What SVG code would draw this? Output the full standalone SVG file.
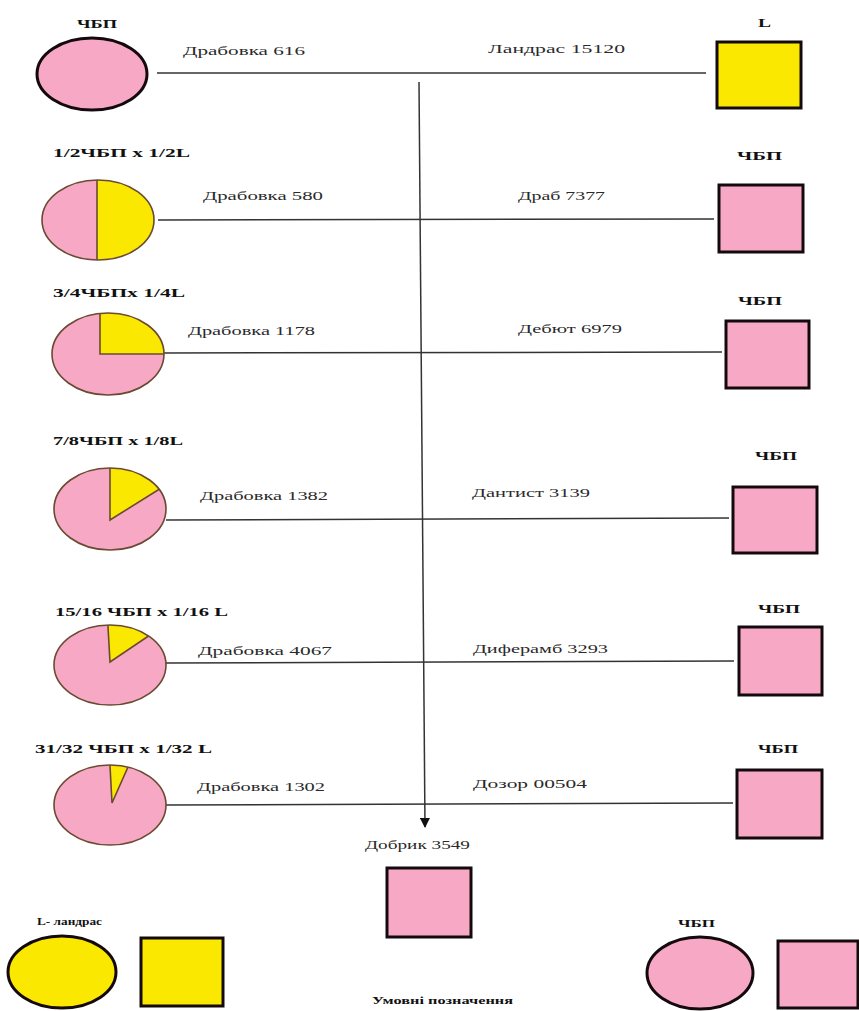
<svg xmlns="http://www.w3.org/2000/svg" width="859" height="1011" viewBox="0 0 859 1011">
<style>
.lbl{font-family:"Liberation Serif","Times New Roman",serif;font-size:13px;fill:#2a2a2a}
.bld{font-family:"Liberation Serif","Times New Roman",serif;font-size:13px;font-weight:bold;fill:#111}
.sm{font-size:10px}
.pink{fill:#F7A8C4}
.yel{fill:#FAE800}
.thick{stroke:#140a0e;stroke-width:3}
.pieo{fill:none;stroke:#6a4a32;stroke-width:1.6}
.wedge{fill:#FAE800;stroke:#6a4a32;stroke-width:1.6}
.conn{stroke:#333;stroke-width:1.5;fill:none}
</style>
<defs>
<marker id="arr" viewBox="0 0 10 10" refX="9" refY="5" markerWidth="10" markerHeight="10" markerUnits="userSpaceOnUse" orient="auto">
<path d="M0,0 L10,5 L0,10 Z" fill="#111"/>
</marker>
<clipPath id="c2"><ellipse cx="98" cy="220" rx="56" ry="40"/></clipPath>
<clipPath id="c3"><ellipse cx="108" cy="354" rx="56" ry="41"/></clipPath>
<clipPath id="c4"><ellipse cx="110" cy="509" rx="56" ry="41"/></clipPath>
<clipPath id="c5"><ellipse cx="110" cy="665" rx="56" ry="40"/></clipPath>
<clipPath id="c6"><ellipse cx="110" cy="805" rx="56" ry="40"/></clipPath>
</defs>
<rect width="859" height="1011" fill="#fff"/>

<g id="connectors">
<line class="conn" x1="157" y1="73" x2="706" y2="73"/>
<line class="conn" x1="158" y1="220" x2="714" y2="219"/>
<line class="conn" x1="164" y1="353" x2="722" y2="352"/>
<line class="conn" x1="166" y1="520" x2="729" y2="518"/>
<line class="conn" x1="166" y1="663" x2="734" y2="661"/>
<line class="conn" x1="166" y1="805" x2="733" y2="803"/>
<line class="conn" x1="419" y1="82" x2="425" y2="827" marker-end="url(#arr)"/>
</g>

<g id="edge-labels">
<text class="lbl" x="183" y="55" textLength="122" lengthAdjust="spacingAndGlyphs">Драбовка 616</text>
<text class="lbl" x="488" y="53" textLength="137" lengthAdjust="spacingAndGlyphs">Ландрас 15120</text>
<text class="lbl" x="203" y="200" textLength="120" lengthAdjust="spacingAndGlyphs">Драбовка 580</text>
<text class="lbl" x="518" y="200" textLength="87" lengthAdjust="spacingAndGlyphs">Драб 7377</text>
<text class="lbl" x="188" y="335" textLength="127" lengthAdjust="spacingAndGlyphs">Драбовка 1178</text>
<text class="lbl" x="518" y="333" textLength="104" lengthAdjust="spacingAndGlyphs">Дебют 6979</text>
<text class="lbl" x="200" y="500" textLength="128" lengthAdjust="spacingAndGlyphs">Драбовка 1382</text>
<text class="lbl" x="472" y="497" textLength="118" lengthAdjust="spacingAndGlyphs">Дантист 3139</text>
<text class="lbl" x="198" y="655" textLength="134" lengthAdjust="spacingAndGlyphs">Драбовка  4067</text>
<text class="lbl" x="473" y="653" textLength="135" lengthAdjust="spacingAndGlyphs">Диферамб 3293</text>
<text class="lbl" x="197" y="791" textLength="128" lengthAdjust="spacingAndGlyphs">Драбовка 1302</text>
<text class="lbl" x="473" y="788" textLength="114" lengthAdjust="spacingAndGlyphs">Дозор 00504</text>
</g>

<g id="n-chbp-top">
<text class="bld" x="77" y="28" textLength="40" lengthAdjust="spacingAndGlyphs">ЧБП</text>
<ellipse class="pink thick" cx="92" cy="74" rx="55" ry="36"/>
</g>
<g id="n-l-top">
<text class="bld" x="758" y="27" textLength="13" lengthAdjust="spacingAndGlyphs">L</text>
<rect class="yel thick" x="717" y="42" width="84" height="66"/>
</g>

<g id="n-pie2">
<text class="bld" x="53" y="157" textLength="137" lengthAdjust="spacingAndGlyphs">1/2ЧБП x 1/2L</text>
<ellipse class="pink" cx="98" cy="220" rx="56" ry="40"/>
<rect class="wedge" x="97" y="150" width="100" height="150" clip-path="url(#c2)"/>
<ellipse class="pieo" cx="98" cy="220" rx="56" ry="40"/>
</g>
<g id="n-sq2">
<text class="bld" x="737" y="160" textLength="45" lengthAdjust="spacingAndGlyphs">ЧБП</text>
<rect class="pink thick" x="719" y="185" width="84" height="67"/>
</g>

<g id="n-pie3">
<text class="bld" x="53" y="297" textLength="132" lengthAdjust="spacingAndGlyphs">3/4ЧБПх 1/4L</text>
<ellipse class="pink" cx="108" cy="354" rx="56" ry="41"/>
<polygon class="wedge" points="100,354 100,200 320,354" clip-path="url(#c3)"/>
<ellipse class="pieo" cx="108" cy="354" rx="56" ry="41"/>
</g>
<g id="n-sq3">
<text class="bld" x="738" y="305" textLength="44" lengthAdjust="spacingAndGlyphs">ЧБП</text>
<rect class="pink thick" x="726" y="321" width="83" height="67"/>
</g>

<g id="n-pie4">
<text class="bld" x="53" y="445" textLength="130" lengthAdjust="spacingAndGlyphs">7/8ЧБП x 1/8L</text>
<ellipse class="pink" cx="110" cy="509" rx="56" ry="41"/>
<polygon class="wedge" points="110,520 110,400 254,430" clip-path="url(#c4)"/>
<ellipse class="pieo" cx="110" cy="509" rx="56" ry="41"/>
</g>
<g id="n-sq4">
<text class="bld" x="755" y="460" textLength="42" lengthAdjust="spacingAndGlyphs">ЧБП</text>
<rect class="pink thick" x="733" y="487" width="84" height="66"/>
</g>

<g id="n-pie5">
<text class="bld" x="55" y="616" textLength="173" lengthAdjust="spacingAndGlyphs">15/16 ЧБП x 1/16 L</text>
<ellipse class="pink" cx="110" cy="665" rx="56" ry="40"/>
<polygon class="wedge" points="110,662 104,557 221,587" clip-path="url(#c5)"/>
<ellipse class="pieo" cx="110" cy="665" rx="56" ry="40"/>
</g>
<g id="n-sq5">
<text class="bld" x="758" y="613" textLength="42" lengthAdjust="spacingAndGlyphs">ЧБП</text>
<rect class="pink thick" x="739" y="627" width="83" height="68"/>
</g>

<g id="n-pie6">
<text class="bld" x="35" y="753" textLength="177" lengthAdjust="spacingAndGlyphs">31/32 ЧБП x 1/32 L</text>
<ellipse class="pink" cx="110" cy="805" rx="56" ry="40"/>
<polygon class="wedge" points="112,803 106,692 160,695" clip-path="url(#c6)"/>
<ellipse class="pieo" cx="110" cy="805" rx="56" ry="40"/>
</g>
<g id="n-sq6">
<text class="bld" x="758" y="753" textLength="40" lengthAdjust="spacingAndGlyphs">ЧБП</text>
<rect class="pink thick" x="737" y="770" width="85" height="68"/>
</g>

<g id="n-dobryk">
<text class="lbl" x="365" y="849" textLength="105" lengthAdjust="spacingAndGlyphs">Добрик 3549</text>
<rect class="pink thick" x="387" y="868" width="84" height="69"/>
</g>

<g id="legend-l">
<text class="bld sm" x="37" y="925" textLength="65" lengthAdjust="spacingAndGlyphs">L- ландрас</text>
<ellipse class="yel thick" cx="62" cy="972" rx="54" ry="36"/>
<rect class="yel thick" x="141" y="938" width="82" height="68"/>
</g>
<g id="legend-chbp">
<text class="bld sm" x="678" y="927" textLength="37" lengthAdjust="spacingAndGlyphs">ЧБП</text>
<ellipse class="pink thick" cx="700" cy="973" rx="53" ry="36"/>
<rect class="pink thick" x="778" y="941" width="80" height="67"/>
</g>
<g id="legend-title">
<text class="bld sm" x="372" y="1004" textLength="141" lengthAdjust="spacingAndGlyphs">Умовні позначення</text>
</g>
</svg>
